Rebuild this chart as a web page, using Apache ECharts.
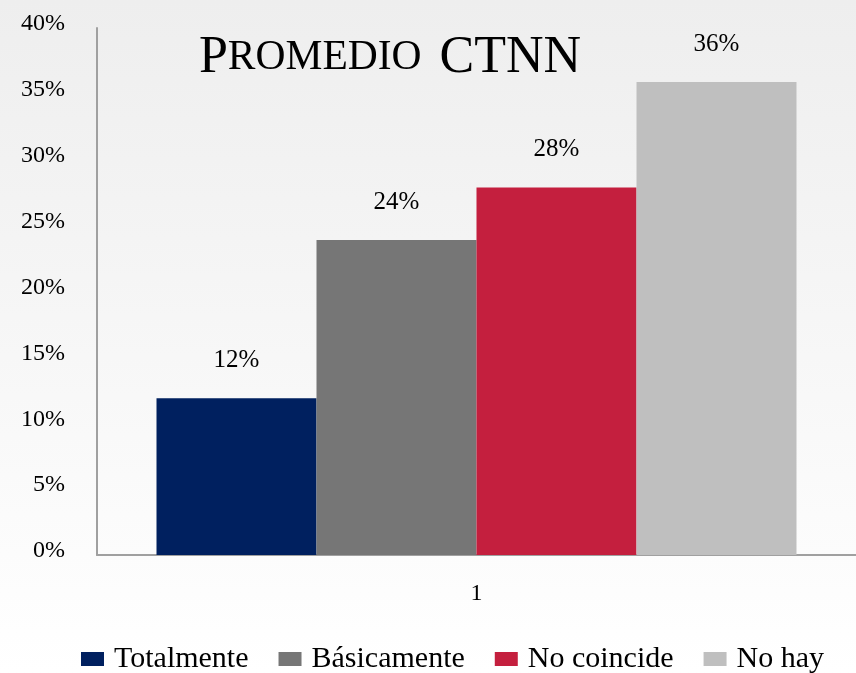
<!DOCTYPE html>
<html><head><meta charset="utf-8">
<script src="https://cdn.jsdelivr.net/npm/echarts@6/dist/echarts.min.js"></script>
<style>html,body{margin:0;padding:0;}#c{width:856px;height:673px;}</style>
</head><body><div id="c"></div>
<script>
const categories = ['1'];
const seriesNames = ['Totalmente', 'Básicamente', 'No coincide', 'No hay'];
const seriesValues = [[11.9], [23.9], [27.9], [35.9]];
const colors = ['#00205f', '#767676', '#c41f3e', '#bfbfbf'];
const yTicks = [0, 5, 10, 15, 20, 25, 30, 35, 40];

const FONT = '"Liberation Serif", "DejaVu Serif", serif';
const chart = echarts.init(document.getElementById('c'));
chart.setOption({
  backgroundColor: {type: 'linear', x: 0, y: 0, x2: 0, y2: 1,
    colorStops: [{offset: 0, color: '#eeeeee'}, {offset: 1, color: '#ffffff'}]},
  animation: false,
  title: {
    text: '{b|P}{s|ROMEDIO}{g| }{b|CTNN}',
    left: 385, top: 27, textAlign: 'center',
    textStyle: {rich: {
      b: {fontFamily: FONT, fontSize: 52, color: '#000', fontWeight: 'normal'},
      s: {fontFamily: FONT, fontSize: 41.5, color: '#000', fontWeight: 'normal'},
      g: {fontFamily: FONT, fontSize: 40, width: 18}
    }}
  },
  grid: {left: 97, right: 0, top: 28, bottom: 118, containLabel: false},
  legend: {
    bottom: -6, left: 76, itemWidth: 23, itemHeight: 14, itemGap: 30,
    icon: 'rect',
    textStyle: {fontFamily: FONT, fontSize: 30, color: '#000', padding: [0, 0, 0, 5]},
    data: seriesNames
  },
  xAxis: {
    type: 'category', data: categories,
    axisLine: {lineStyle: {color: '#a0a0a0', width: 2}},
    axisTick: {show: false},
    axisLabel: {fontFamily: FONT, fontSize: 24, color: '#000', margin: 27}
  },
  yAxis: {
    type: 'value', min: 0, max: 40, interval: 5,
    axisLine: {show: true, lineStyle: {color: '#a0a0a0', width: 2}},
    axisTick: {show: false},
    splitLine: {show: false},
    axisLabel: {fontFamily: FONT, fontSize: 24, color: '#000', margin: 32,
      verticalAlign: 'bottom', padding: [0, 0, -8, 0],
      formatter: v => yTicks.includes(v) ? v + '%' : ''}
  },
  series: seriesNames.map((n, i) => ({
    name: n, type: 'bar', data: seriesValues[i],
    barWidth: 160, barGap: '0%',
    itemStyle: {color: colors[i]},
    label: {show: true, position: 'top', distance: 25,
      fontFamily: FONT, fontSize: 25, color: '#000',
      formatter: p => Math.round(p.value) + '%'}
  }))
});
</script></body></html>
